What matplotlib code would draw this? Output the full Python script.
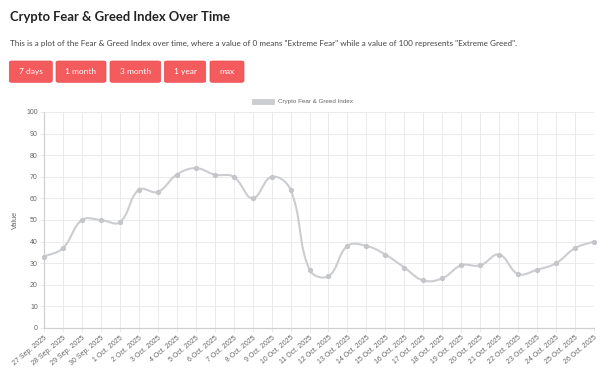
import matplotlib
matplotlib.use("Agg")
import matplotlib.pyplot as plt
from matplotlib.patches import FancyBboxPatch, Rectangle
import numpy as np

dates = ["27 Sep. 2025", "28 Sep. 2025", "29 Sep. 2025", "30 Sep. 2025",
         "1 Oct. 2025", "2 Oct. 2025", "3 Oct. 2025", "4 Oct. 2025", "5 Oct. 2025",
         "6 Oct. 2025", "7 Oct. 2025", "8 Oct. 2025", "9 Oct. 2025", "10 Oct. 2025",
         "11 Oct. 2025", "12 Oct. 2025", "13 Oct. 2025", "14 Oct. 2025", "15 Oct. 2025",
         "16 Oct. 2025", "17 Oct. 2025", "18 Oct. 2025", "19 Oct. 2025", "20 Oct. 2025",
         "21 Oct. 2025", "22 Oct. 2025", "23 Oct. 2025", "24 Oct. 2025", "25 Oct. 2025",
         "26 Oct. 2025"]
values = [33, 37, 50, 50, 49, 64, 63, 71, 74, 71, 70, 60, 70, 64,
          27, 24, 38, 38, 34, 28, 22, 23, 29, 29, 34, 25, 27, 30, 37, 40]
buttons = ["7 days", "1 month", "3 month", "1 year", "max"]
series_label = "Crypto Fear & Greed Index"
title = "Crypto Fear & Greed Index Over Time"
subtitle = ('This is a plot of the Fear & Greed Index over time, where a value of 0 means '
            '"Extreme Fear" while a value of 100 represents "Extreme Greed".')

W, H = 605, 368
fig = plt.figure(figsize=(W / 100, H / 100), dpi=100)

def fx(px):
    return px / W

def fy(py):
    return 1 - py / H

# Header text
fig.text(fx(9.5), fy(17), title, fontsize=9.4, fontweight="bold", family="Lato",
         color="#222222", va="center", ha="left")
fig.text(fx(9.5), fy(43), subtitle, fontsize=5.9, family="Lato",
         color="#444444", va="center", ha="left")

# Buttons
btn_x = [(9.3, 52.3), (56, 106), (110, 160.7), (164.3, 205.7), (210, 244)]
for (x0, x1), lab in zip(btn_x, buttons):
    p = FancyBboxPatch((fx(x0), fy(82.3)), fx(x1 - x0), (82.3 - 61) / H,
                       boxstyle="round,pad=0,rounding_size=0.004",
                       transform=fig.transFigure, facecolor="#f35b5d",
                       edgecolor="#e65052", linewidth=0.5)
    fig.patches.append(p)
    fig.text(fx((x0 + x1) / 2), fy(71.7), lab, fontsize=6.0, family="Lato",
             color="white", ha="center", va="center")

# Axes
x0p, x1p, y0p, y1p = 44, 594, 112, 328
ax = fig.add_axes([fx(x0p), fy(y1p), fx(x1p - x0p), (y1p - y0p) / H])
n = len(values)
xs = np.arange(n)
ax.set_xlim(0, n - 1)
ax.set_ylim(0, 100)

# Chart.js-like spline (tension 0.4), distances in pixel space
sx = (x1p - x0p) / (n - 1)
sy = (y1p - y0p) / 100.0
px = xs * sx
py = np.array(values, dtype=float) * sy
t = 0.4
cps_prev = []
cps_next = []
for i in range(n):
    prev = (px[max(i - 1, 0)], py[max(i - 1, 0)])
    cur = (px[i], py[i])
    nxt = (px[min(i + 1, n - 1)], py[min(i + 1, n - 1)])
    d01 = np.hypot(cur[0] - prev[0], cur[1] - prev[1])
    d12 = np.hypot(nxt[0] - cur[0], nxt[1] - cur[1])
    tot = d01 + d12
    s01 = d01 / tot if tot else 0
    s12 = d12 / tot if tot else 0
    fa = t * s01
    fb = t * s12
    cps_prev.append((cur[0] - fa * (nxt[0] - prev[0]), cur[1] - fa * (nxt[1] - prev[1])))
    cps_next.append((cur[0] + fb * (nxt[0] - prev[0]), cur[1] + fb * (nxt[1] - prev[1])))
cx, cy = [], []
tt = np.linspace(0, 1, 40)
for i in range(n - 1):
    p0 = np.array([px[i], py[i]])
    p1 = np.array(cps_next[i])
    p2 = np.array(cps_prev[i + 1])
    p3 = np.array([px[i + 1], py[i + 1]])
    b = ((1 - tt)[:, None] ** 3 * p0 + 3 * ((1 - tt) ** 2 * tt)[:, None] * p1
         + 3 * ((1 - tt) * tt ** 2)[:, None] * p2 + (tt ** 3)[:, None] * p3)
    cx.extend(b[:, 0] / sx)
    cy.extend(b[:, 1] / sy)

line_col = "#cbcdd0"
ax.plot(cx, cy, color=line_col, linewidth=1.5, solid_capstyle="round", zorder=3,
        clip_on=False)
ax.plot(xs, values, linestyle="none", marker="o", markersize=2.8,
        markerfacecolor="#c4c6ca", markeredgecolor="#c4c6ca", zorder=4, clip_on=False)

ax.set_xticks(xs)
ax.set_xticklabels(dates, rotation=40, ha="right", rotation_mode="anchor",
                   fontsize=5.0, family="Liberation Sans", color="#666666")
ax.set_yticks(np.arange(0, 101, 10))
ax.set_yticklabels([str(v) for v in range(0, 101, 10)], fontsize=5.0,
                   family="Liberation Sans", color="#666666")
ax.grid(True, color="#ebebeb", linewidth=0.7)
ax.set_axisbelow(True)
for s in ["top", "right"]:
    ax.spines[s].set_visible(False)
for s in ["left", "bottom"]:
    ax.spines[s].set_color("#d0d0d0")
    ax.spines[s].set_linewidth(0.9)
ax.tick_params(axis="both", length=3, color="#ebebeb", width=0.7, pad=1.5)
ax.set_ylabel("Value", fontsize=5.3, family="Liberation Sans", color="#666666",
              labelpad=5)

# Legend
fig.patches.append(Rectangle((fx(252), fy(104)), fx(22), 5 / H,
                             transform=fig.transFigure, facecolor="#cbcdd0",
                             edgecolor="#c0c0c0", linewidth=0.4))
fig.text(fx(278), fy(101.5), series_label, fontsize=4.5, family="Liberation Sans",
         color="#666666", ha="left", va="center")

fig.savefig("out.png", dpi=100, facecolor="white")
